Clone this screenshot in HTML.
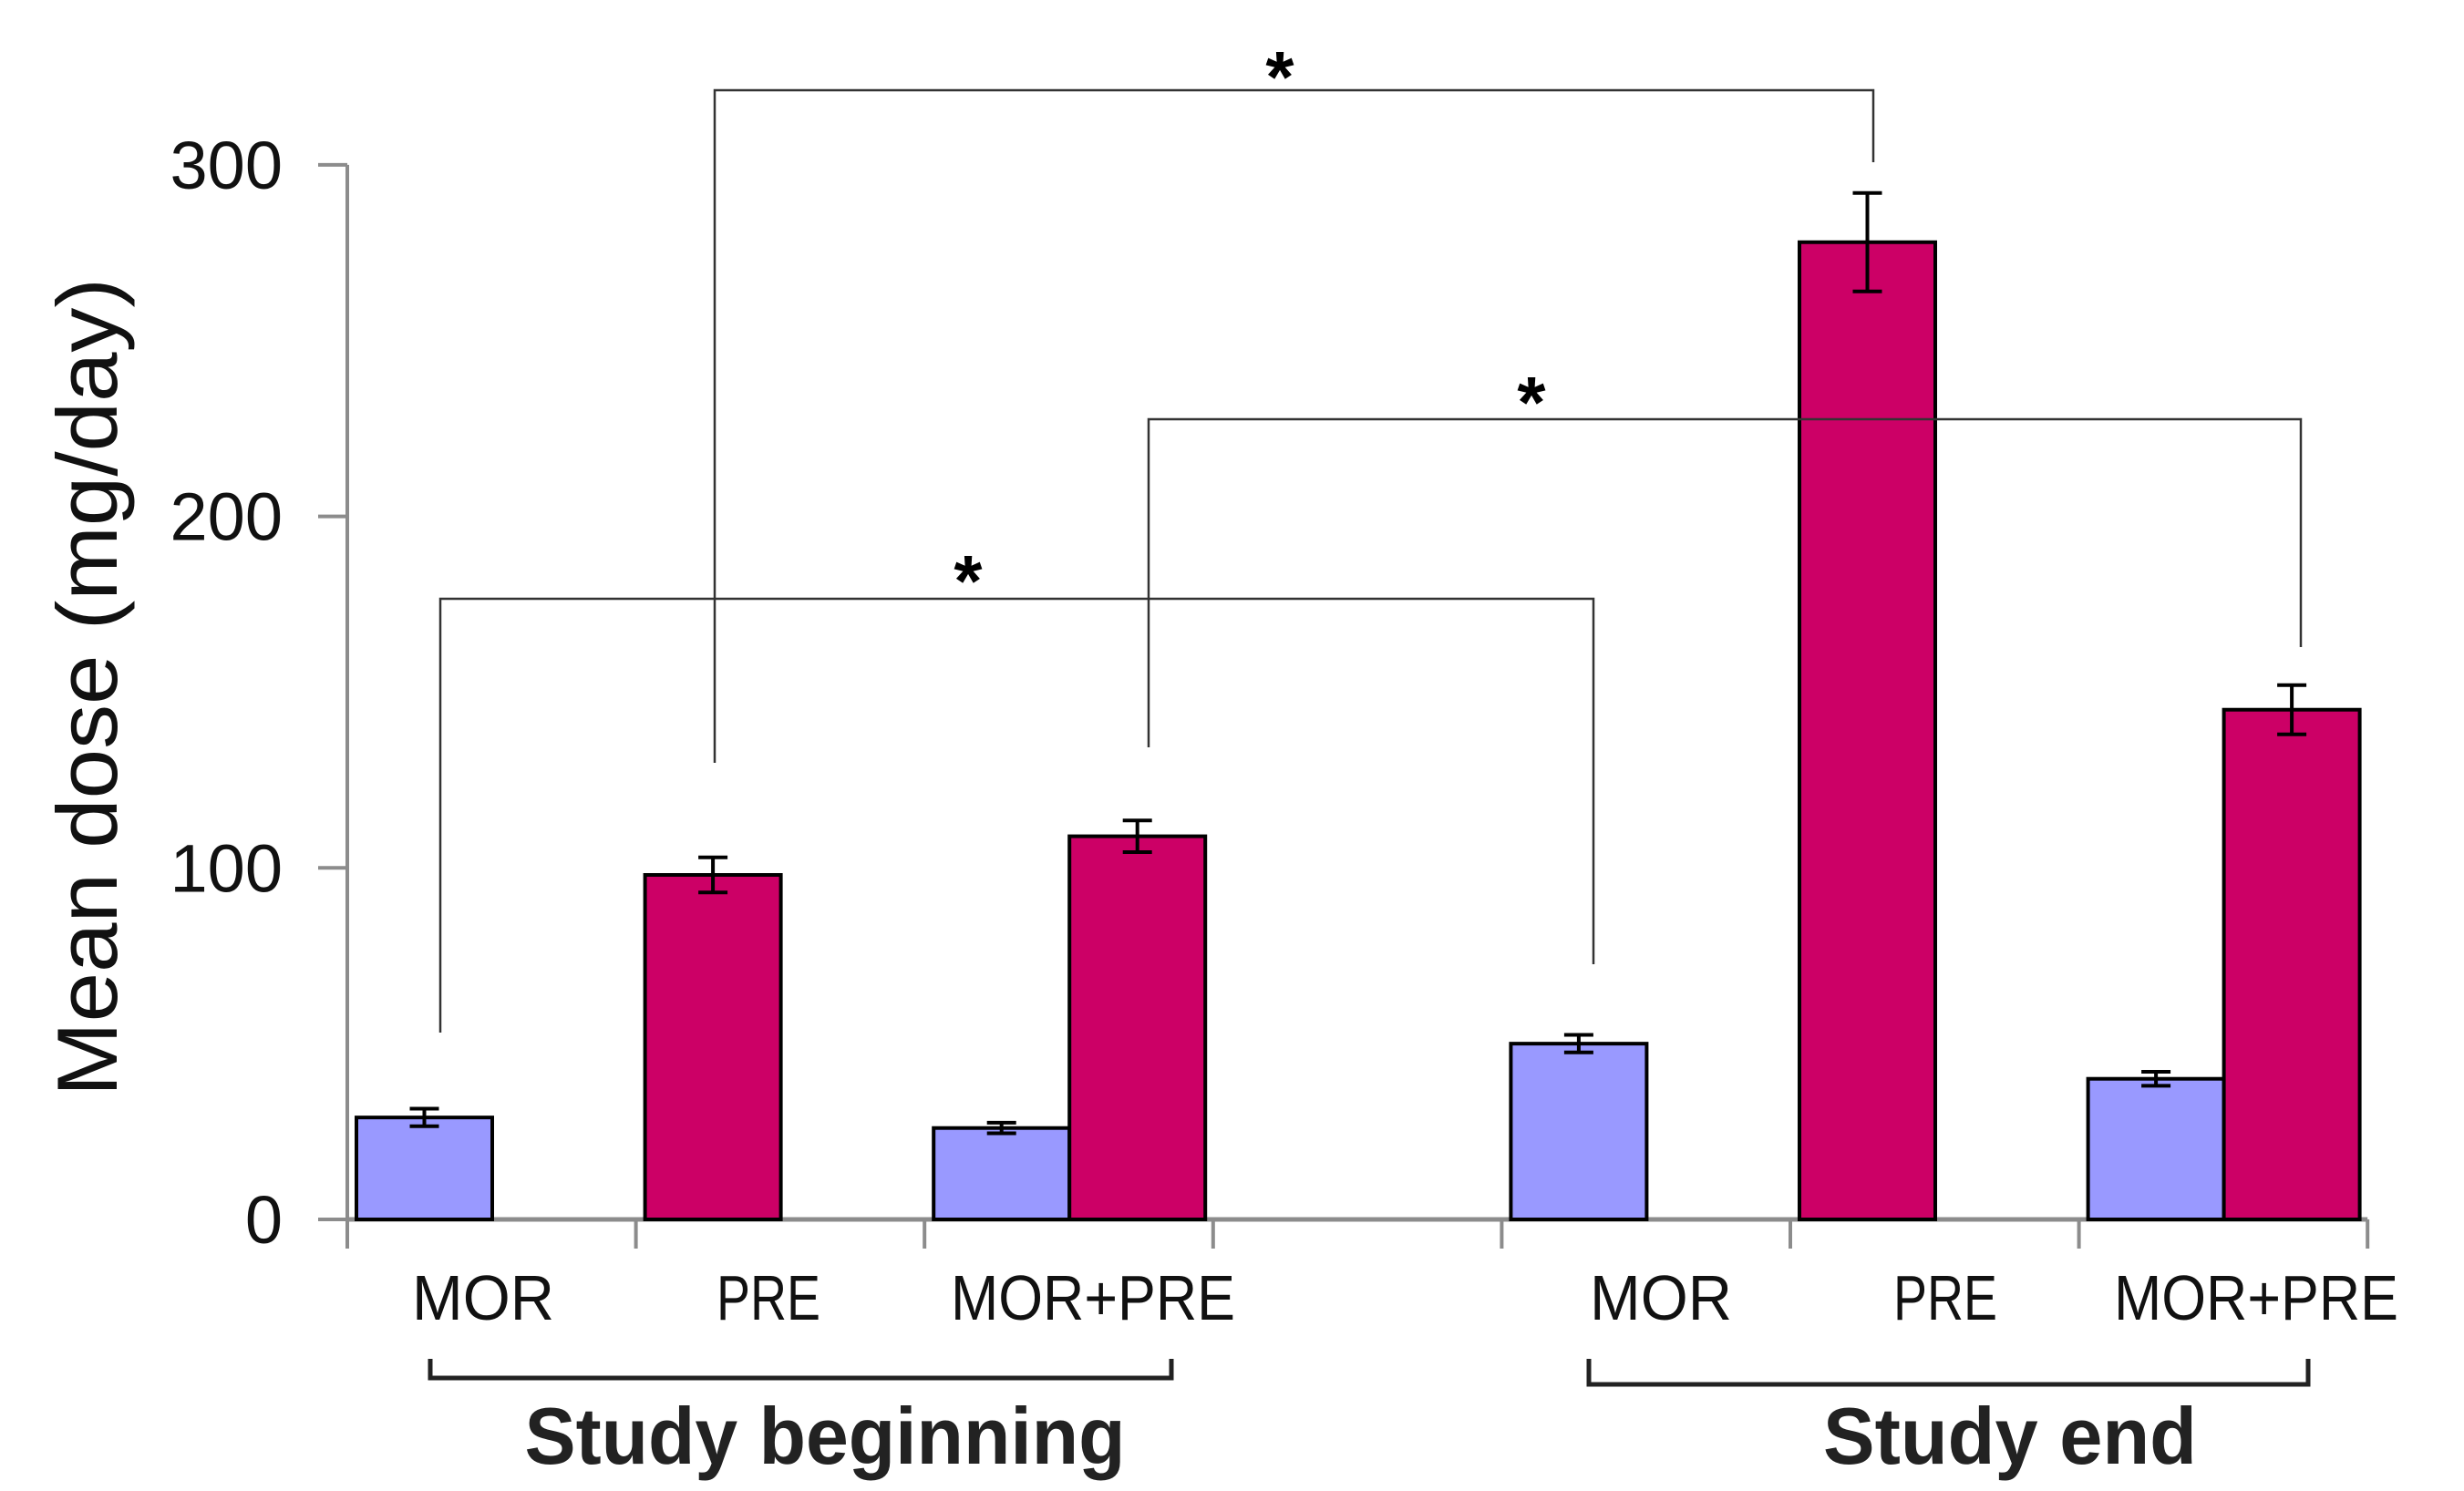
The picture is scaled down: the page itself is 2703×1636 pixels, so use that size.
<!DOCTYPE html>
<html><head><meta charset="utf-8"><style>
html,body{margin:0;padding:0;background:#fff;}
svg{display:block;font-family:"Liberation Sans",Arial,sans-serif;}
</style></head><body>
<svg id="chart" width="2703" height="1636" viewBox="0 0 2703 1636" xmlns="http://www.w3.org/2000/svg"></svg>
<script>
const categories = ["MOR","PRE","MOR+PRE","","MOR","PRE","MOR+PRE"];
const morValues = [29, null, 26, null, 50, null, 40];
const morErrors = [2.5, null, 1.5, null, 2.5, null, 2];
const preValues = [null, 98, 109, null, null, 278, 145];
const preErrors = [null, 5, 4.5, null, null, 14, 7];
const yTicks = [0, 100, 200, 300];
const groupLabels = ["Study beginning","Study end"];

const NS = "http://www.w3.org/2000/svg";
const svg = document.getElementById('chart');
const X0 = 381, SLOT = 316.6, Y0 = 1338, PX = 3.857;
const yS = v => Y0 - v * PX;
const slotX = i => X0 + i * SLOT;
function mk(tag, attrs, parent) {
  const e = document.createElementNS(NS, tag);
  for (const k in attrs) e.setAttribute(k, attrs[k]);
  (parent || svg).appendChild(e);
  return e;
}
function txt(s, attrs) { const t = mk('text', attrs); t.textContent = s; return t; }

// y axis
let e = mk('line', {x1:X0, y1:yS(300), x2:X0, y2:Y0+32, stroke:'#8c8c8c', 'stroke-width':4});


yTicks.forEach(v => {
  let t = mk('line', {x1:X0-32, y1:yS(v), x2:X0, y2:yS(v), stroke:'#8c8c8c', 'stroke-width':4});
  
  
  let l = txt(String(v), {x:310, y:yS(v)+26, 'text-anchor':'end', 'font-size':74, fill:'#111'});
  
  
});
let yt = txt("Mean dose (mg/day)", {x:0, y:0, 'text-anchor':'middle', 'font-size':94, fill:'#111', transform:'translate(128,754) rotate(-90)', textLength:898, lengthAdjust:'spacingAndGlyphs'});



// x axis
e = mk('line', {x1:X0, y1:Y0, x2:slotX(7), y2:Y0, stroke:'#8c8c8c', 'stroke-width':5});


for (let i = 0; i <= 7; i++) {
  let t = mk('line', {x1:slotX(i), y1:Y0, x2:slotX(i), y2:Y0+32, stroke:'#8c8c8c', 'stroke-width':4});
  
  
}
const labelCenters = [530, 843, 1199, 0, 1822, 2134, 2475];
const labelWidths = [156, 114, 312, 0, 156, 114, 312];
categories.forEach((c, i) => {
  if (!c) return;
  let l = txt(c, {x:labelCenters[i], y:1448, 'text-anchor':'middle', 'font-size':70, fill:'#111', textLength:labelWidths[i], lengthAdjust:'spacingAndGlyphs'});
  
  
});

// bars
const BW = 149;
function bar(x, v, err, color, name) {
  let r = mk('rect', {x:x, y:yS(v), width:BW, height:Y0 - yS(v), fill:color, stroke:'#000', 'stroke-width':4});
  
  
  const cx = x + BW/2;
  let g = mk('g', {stroke:'#000', 'stroke-width':4});
  
  
  mk('line', {x1:cx, y1:yS(v+err), x2:cx, y2:yS(v-err)}, g);
  mk('line', {x1:cx-16, y1:yS(v+err), x2:cx+16, y2:yS(v+err)}, g);
  mk('line', {x1:cx-16, y1:yS(v-err), x2:cx+16, y2:yS(v-err)}, g);
}
categories.forEach((c, i) => {
  const left = slotX(i) + 10;
  if (morValues[i] != null) bar(left, morValues[i], morErrors[i], '#9999ff', 'bar-mor');
  if (preValues[i] != null) {
    const x = morValues[i] != null ? left + BW : left;
    bar(x, preValues[i], preErrors[i], '#cc0066', 'bar-pre');
  }
});

// significance brackets
function sig(x1, y1a, x2, y2a, yTop, sx, sy) {
  let p = mk('polyline', {points:`${x1},${y1a} ${x1},${yTop} ${x2},${yTop} ${x2},${y2a}`, fill:'none', stroke:'#333', 'stroke-width':2.5});
  
  
  let s = txt('*', {x:sx, y:sy+42, 'text-anchor':'middle', 'font-size':80, 'font-weight':'bold', fill:'#000'});
  
  
}
sig(784, 837, 2055, 178, 99, 1404, 70);
sig(1260, 820, 2524, 710, 460, 1680, 427);
sig(483, 1133, 1748, 1058, 657, 1062, 623);

// group brackets
function grp(x1, x2, yA, yB, label, cx, w) {
  let p = mk('polyline', {points:`${x1},${yA} ${x1},${yB} ${x2},${yB} ${x2},${yA}`, fill:'none', stroke:'#222', 'stroke-width':5});
  
  
  let l = txt(label, {x:cx, y:1606, 'text-anchor':'middle', 'font-size':88, 'font-weight':'bold', fill:'#222', textLength:w, lengthAdjust:'spacingAndGlyphs'});
  
  
}
grp(472, 1285, 1491, 1512, groupLabels[0], 905, 659);
grp(1743, 2532, 1491, 1519, groupLabels[1], 2205, 410);
</script>
</body></html>
